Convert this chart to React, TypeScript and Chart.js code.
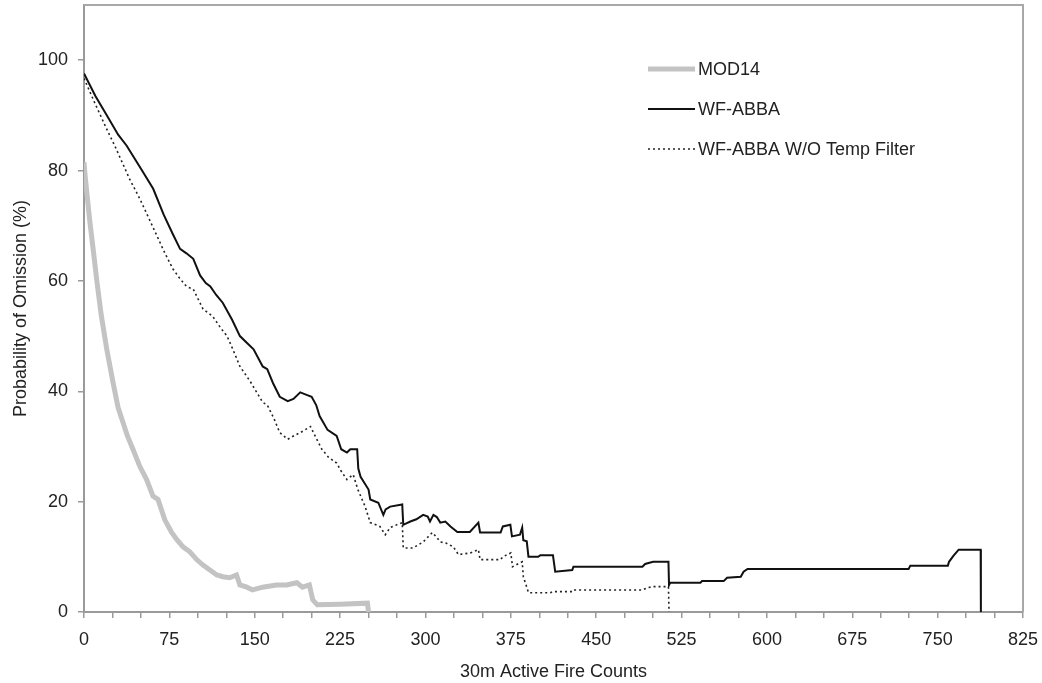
import React, { useEffect, useRef } from "react";
import { Chart, registerables } from "chart.js";

Chart.register(...registerables);

// ---- Data ----
const mod14X = [0, 1, 3, 5, 8, 11.4, 15, 20, 25.5, 30, 34.2, 38, 43, 49, 55, 60.6, 65, 71, 77, 81.6, 87, 93, 99, 104.6, 110.6, 116.7, 122, 128, 134, 137, 143, 148, 157, 169, 178, 187, 192, 198, 201, 205, 225, 249, 250];
const mod14Y = [81.5, 79, 75, 71, 65.8, 59.8, 54, 47.6, 41.6, 37, 34.4, 32, 29.5, 26.4, 24, 21, 20.4, 16.7, 14.4, 13.1, 11.8, 10.9, 9.5, 8.5, 7.6, 6.7, 6.4, 6.2, 6.7, 4.9, 4.5, 4.0, 4.5, 4.9, 4.9, 5.3, 4.5, 4.9, 2.2, 1.3, 1.4, 1.6, 0];

const wfX = [0, 10, 20, 30, 37.5, 51, 60.8, 70, 78, 84.4, 90, 96, 102, 107, 111, 116, 122, 130, 137, 143, 149, 157, 161, 166, 172, 179, 184, 190, 195, 200, 204, 207, 214, 222, 226, 231, 234, 240, 241, 243, 250, 251.5, 258.6, 263, 265, 269, 279.6, 280.5, 286.7, 292, 298, 302, 304, 307, 310, 313, 317.5, 322, 328, 339, 346.5, 348, 366, 368, 374.6, 376, 383, 385, 386, 389, 390.5, 399, 401, 412, 414, 429, 430, 490.6, 493, 500, 513.5, 514, 515, 541.6, 543, 562, 565, 577, 579.5, 583, 724.5, 726, 759, 760, 764, 768.5, 787.8, 788];
const wfY = [97.6, 93.5, 90, 86.5, 84.5, 80, 76.7, 72, 68.5, 65.8, 65, 64, 61, 59.6, 59, 57.5, 56, 53, 50, 48.8, 47.6, 44.5, 44, 41.5, 39, 38.2, 38.6, 39.8, 39.4, 39, 37.5, 35.5, 33, 31.9, 29.5, 28.9, 29.5, 29.5, 26, 24.5, 22.2, 20.4, 19.8, 17.6, 18.6, 19.1, 19.5, 15.8, 16.4, 16.8, 17.6, 17.3, 16.4, 17.6, 17.2, 16.2, 16.4, 15.5, 14.5, 14.5, 16.2, 14.4, 14.4, 15.5, 15.8, 13.7, 14, 15.3, 13, 12.8, 10, 10, 10.3, 10.3, 7.3, 7.6, 8.2, 8.2, 8.7, 9.1, 9.1, 4.9, 5.3, 5.3, 5.6, 5.6, 6.2, 6.4, 7.3, 7.8, 7.8, 8.4, 8.4, 9.1, 10.2, 11.3, 11.3, 0];

const wfNoTempX = [0, 10, 20, 27, 40, 49, 60, 70, 78, 84, 90, 96, 104.6, 113, 120, 125.7, 131, 137, 146, 157, 161, 167, 172, 179, 185, 190, 199, 204, 209, 215, 222, 226, 231, 236.5, 240.6, 247, 251.5, 260, 264.7, 269, 279.6, 280.5, 289, 298, 306, 310, 313, 318, 324.5, 329, 339.4, 346.5, 348, 366, 368, 375, 376.5, 383, 385, 386, 389, 390.5, 409.8, 412, 429, 430, 490.6, 495, 500.5, 513.5, 514];
const wfNoTempY = [96.7, 92, 87.5, 84.5, 78.5, 74.9, 70, 65.5, 62.2, 60.5, 59, 58.5, 54.9, 53.6, 51.5, 50, 47.5, 44.5, 41.8, 38, 37.5, 35, 32.5, 31.3, 32, 32.5, 33.6, 31.5, 29.5, 28, 27, 25.5, 24, 24.9, 22.2, 19.1, 16.2, 15.5, 14, 15.3, 16.2, 11.6, 11.6, 12.7, 14.4, 13.5, 12.7, 12.5, 11.8, 10.4, 10.7, 11.3, 9.5, 9.5, 10, 10.7, 8.2, 8.9, 9.1, 6.4, 4.5, 3.5, 3.5, 3.7, 3.7, 4.0, 4.0, 4.4, 4.6, 4.6, 0];

const seriesLabels = ["MOD14", "WF-ABBA", "WF-ABBA W/O Temp Filter"];
const xTitle = "30m Active Fire Counts";
const yTitle = "Probability of Omission (%)";

const FONT = '"Liberation Sans", Arial, Helvetica, sans-serif';
const TEXT = "#222222";
const AXIS = "#9a9a9a";

const toPoints = (xs: number[], ys: number[]) => xs.map((x, i) => ({ x, y: ys[i] }));

const framePlugin = {
  id: "frame",
  afterDraw(chart: any) {
    const { ctx, chartArea } = chart;
    ctx.save();
    ctx.strokeStyle = "#a8a8a8";
    ctx.lineWidth = 2;
    ctx.beginPath();
    ctx.moveTo(chartArea.left, chartArea.top);
    ctx.lineTo(chartArea.right, chartArea.top);
    ctx.lineTo(chartArea.right, chartArea.bottom);
    ctx.stroke();
    ctx.restore();
  },
};

const legendPlugin = {
  id: "insideLegend",
  afterDraw(chart: any) {
    const { ctx, chartArea } = chart;
    const x0 = chartArea.left + 564;
    const y0 = chartArea.top + 64;
    chart.data.datasets.forEach((ds: any, i: number) => {
      const y = y0 + i * 40;
      ctx.save();
      ctx.strokeStyle = ds.borderColor;
      ctx.lineWidth = ds.borderWidth;
      ctx.setLineDash(ds.borderDash || []);
      ctx.beginPath();
      ctx.moveTo(x0, y);
      ctx.lineTo(x0 + 47, y);
      ctx.stroke();
      ctx.setLineDash([]);
      ctx.fillStyle = TEXT;
      ctx.font = `18px ${FONT}`;
      ctx.textAlign = "left";
      ctx.textBaseline = "middle";
      ctx.fillText(ds.label, x0 + 50, y + 1);
      ctx.restore();
    });
  },
};

export default function App() {
  const canvasRef = useRef<HTMLCanvasElement | null>(null);

  useEffect(() => {
    if (!canvasRef.current) return;
    const chart = new Chart(canvasRef.current, {
      type: "line",
      data: {
        datasets: [
          {
            label: seriesLabels[0],
            data: toPoints(mod14X, mod14Y),
            borderColor: "#c3c3c3",
            borderWidth: 5,
            pointRadius: 0,
            fill: false,
            tension: 0,
            order: 3,
          },
          {
            label: seriesLabels[1],
            data: toPoints(wfX, wfY),
            borderColor: "#111111",
            borderWidth: 2,
            pointRadius: 0,
            fill: false,
            tension: 0,
            order: 1,
          },
          {
            label: seriesLabels[2],
            data: toPoints(wfNoTempX, wfNoTempY),
            borderColor: "#222222",
            borderWidth: 1.6,
            borderDash: [2, 3],
            pointRadius: 0,
            fill: false,
            tension: 0,
            order: 2,
          },
        ],
      },
      options: {
        responsive: false,
        animation: false,
        layout: { padding: { top: 5, right: 19, left: 0, bottom: 0 } },
        plugins: {
          legend: { display: false },
          tooltip: { enabled: false },
        },
        scales: {
          x: {
            type: "linear",
            min: 0,
            max: 825,
            afterFit: (scale: any) => {
              scale.height = 71;
              scale.paddingLeft = 0;
              scale.paddingRight = 0;
            },
            ticks: {
              stepSize: 25,
              autoSkip: false,
              maxRotation: 0,
              padding: 11,
              color: TEXT,
              font: { family: FONT, size: 18 },
              callback: (v: any) => (Number(v) % 75 === 0 ? String(v) : ""),
            },
            grid: {
              drawOnChartArea: false,
              drawTicks: true,
              tickLength: 6,
              color: AXIS,
              lineWidth: 1.5,
            },
            border: { display: true, color: AXIS, width: 2 },
            title: {
              display: true,
              text: xTitle,
              color: TEXT,
              font: { family: FONT, size: 18 },
              padding: { top: 0, bottom: 0 },
            },
          },
          y: {
            type: "linear",
            min: 0,
            max: 110,
            afterFit: (scale: any) => {
              scale.width = 84;
              scale.paddingTop = 0;
              scale.paddingBottom = 0;
            },
            afterBuildTicks: (scale: any) => {
              scale.ticks = scale.ticks.filter((t: any) => t.value <= 100);
            },
            ticks: {
              stepSize: 20,
              padding: 10,
              color: TEXT,
              font: { family: FONT, size: 18 },
            },
            grid: {
              drawOnChartArea: false,
              drawTicks: true,
              tickLength: 6,
              color: AXIS,
              lineWidth: 1.5,
            },
            border: { display: true, color: AXIS, width: 2 },
            title: {
              display: true,
              text: yTitle,
              color: TEXT,
              font: { family: FONT, size: 18 },
              padding: { top: 10, bottom: 0 },
            },
          },
        },
      },
      plugins: [framePlugin, legendPlugin],
    });
    return () => chart.destroy();
  }, []);

  return (
    <div style={{ position: "fixed", left: 0, top: 0, width: 1042, height: 683, background: "#fff" }}>
      <canvas ref={canvasRef} width={1042} height={683} style={{ display: "block" }} />
    </div>
  );
}
